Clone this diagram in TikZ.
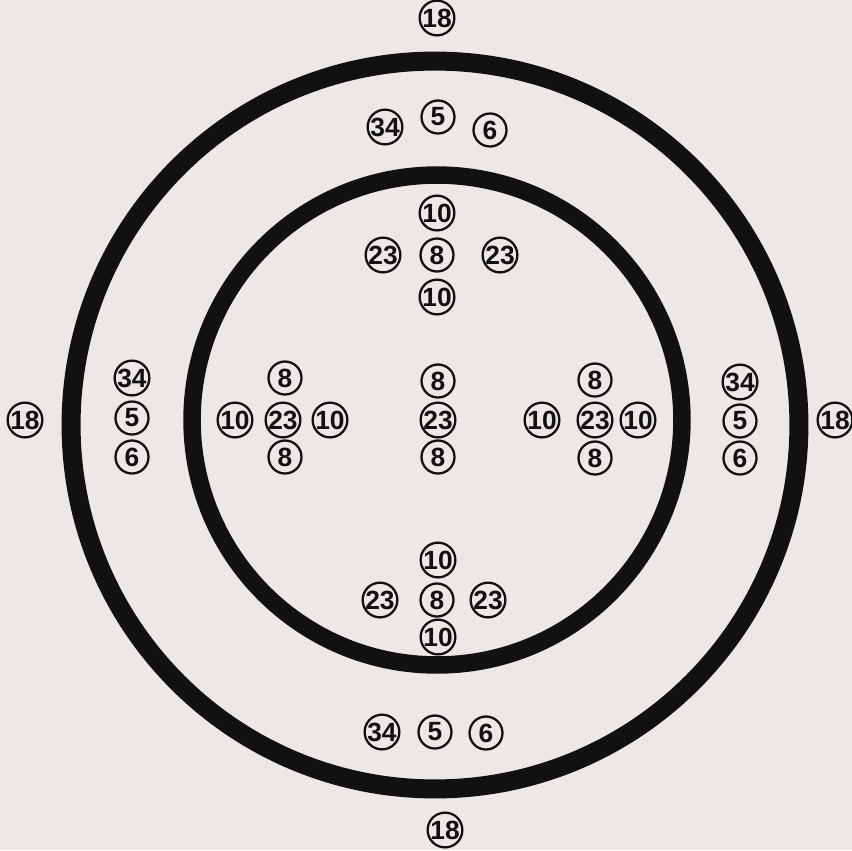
\documentclass[tikz,border=0pt]{standalone}
\usepackage{fontspec}
\setmainfont{Liberation Sans}
\usepackage{tikz}
\usetikzlibrary{calc}
\usepackage{xcolor}
\definecolor{paper}{RGB}{236, 232, 229}
\definecolor{ink}{RGB}{18, 16, 16}
\tikzset{
  num/.style={circle, draw=ink, line width=1.3pt, minimum size=0.66cm,
    inner sep=0pt, font=\fontsize{15}{15}\selectfont\bfseries, text=ink},
  ring/.style={draw=ink, line width=#1},
}

\begin{document}
\begin{tikzpicture}[x=0.02cm, y=-0.02cm]
  % background
  \fill[paper] (0,0) rectangle (852,850);
  \useasboundingbox (0,0) rectangle (852,850);

  % --- Rings ---
  \draw[ring=0.38cm] (435,425) circle [radius=7.28cm];
  \draw[ring=0.35cm] (437,420) circle [radius=4.9cm];

  % --- Top ---
  \node[num] (t18) at (437,18) {18};
  \node[num] (t34) at (385,127) {34};
  \node[num] (t5) at (438,117) {5};
  \node[num] (t6) at (490,130) {6};
  \node[num] (tu10) at (437,213) {10};
  \node[num] (tl23) at (383,255) {23};
  \node[num] (tc8) at (437,255) {8};
  \node[num] (tr23) at (500,255) {23};
  \node[num] (td10) at (437,297) {10};

  % --- Left ---
  \node[num] (l18) at (25,420) {18};
  \node[num] (l34) at (132,378) {34};
  \node[num] (l5) at (132,418) {5};
  \node[num] (l6) at (132,457) {6};
  \node[num] (lu8) at (285,378) {8};
  \node[num] (ll10) at (235,420) {10};
  \node[num] (lc23) at (283,420) {23};
  \node[num] (lr10) at (330,420) {10};
  \node[num] (ld8) at (285,457) {8};

  % --- Centre ---
  \node[num] (cu8) at (438,381) {8};
  \node[num] (c23) at (438,420) {23};
  \node[num] (cd8) at (438,457) {8};

  % --- Right ---
  \node[num] (ru8) at (595,380) {8};
  \node[num] (rl10) at (542,420) {10};
  \node[num] (rc23) at (595,420) {23};
  \node[num] (rr10) at (638,420) {10};
  \node[num] (rd8) at (595,458) {8};
  \node[num] (r34) at (740,382) {34};
  \node[num] (r5) at (740,421) {5};
  \node[num] (r6) at (740,458) {6};
  \node[num] (r18) at (835,420) {18};

  % --- Bottom ---
  \node[num] (bu10) at (438,560) {10};
  \node[num] (bl23) at (380,600) {23};
  \node[num] (bc8) at (437,600) {8};
  \node[num] (br23) at (488,600) {23};
  \node[num] (bd10) at (438,637) {10};
  \node[num] (b34) at (382,732) {34};
  \node[num] (b5) at (435,732) {5};
  \node[num] (b6) at (486,733) {6};
  \node[num] (b18) at (445,830) {18};
\end{tikzpicture}
\end{document}
